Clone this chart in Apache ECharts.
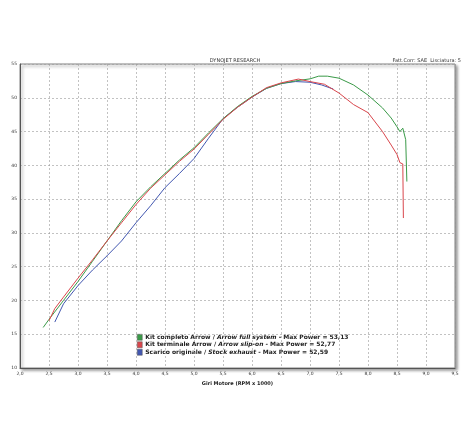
<!DOCTYPE html>
<html>
<head>
<meta charset="utf-8">
<title>Dyno</title>
<script src="https://cdn.jsdelivr.net/npm/echarts@6/dist/echarts.min.js"></script>
<style>body{margin:0;background:#fff}#main{width:470px;height:440px}</style>
</head>
<body>
<div id="main"></div>
<script>
// [rpm x1000, PS]
var fullSystem = [[2.4,16],[2.5,17.2],[2.75,20],[3.0,22.8],[3.25,25.8],[3.5,28.8],[3.75,31.8],[4.0,34.6],[4.25,36.8],[4.5,38.8],[4.75,40.8],[5.0,42.6],[5.25,44.8],[5.5,46.9],[5.75,48.7],[6.0,50.2],[6.25,51.4],[6.5,52.1],[6.75,52.5],[7.0,52.8],[7.15,53.2],[7.3,53.2],[7.5,52.9],[7.75,51.9],[8.0,50.4],[8.25,48.5],[8.4,47],[8.5,45.7],[8.55,45],[8.6,45.5],[8.65,43.8],[8.67,37.6]];
var slipOn = [[2.5,17],[2.6,18.8],[2.75,20.5],[3.0,23.3],[3.25,26],[3.5,28.8],[3.75,31.5],[4.0,34.2],[4.25,36.6],[4.5,38.6],[4.75,40.6],[5.0,42.4],[5.25,44.6],[5.5,46.8],[5.75,48.6],[6.0,50.1],[6.25,51.5],[6.5,52.2],[6.8,52.77],[7.0,52.4],[7.25,52],[7.5,50.7],[7.75,49],[8.0,47.8],[8.25,45],[8.4,43],[8.5,41.6],[8.55,40.4],[8.6,40.2],[8.61,32.2]];
var stock = [[2.6,16.8],[2.75,19.5],[3.0,22.2],[3.25,24.5],[3.5,26.6],[3.75,28.8],[4.0,31.5],[4.25,34],[4.5,36.7],[4.75,38.8],[5.0,41],[5.25,44],[5.5,46.9],[5.75,48.6],[6.0,50.1],[6.25,51.4],[6.5,52.1],[6.75,52.4],[7.0,52.3],[7.2,51.9],[7.4,51.3]];

var colors = ['#3a9a48', '#d9464c', '#4257b0'];
var legendRows = [
  ['Kit completo Arrow / ', 'Arrow full system', ' - Max Power = 53,13'],
  ['Kit terminale Arrow / ', 'Arrow slip-on', ' - Max Power = 52,77'],
  ['Scarico originale / ', 'Stock exhaust', ' - Max Power = 52,59']
];

var chart = echarts.init(document.getElementById('main'));
var legendEls = [];
legendRows.forEach(function (r, i) {
  legendEls.push({type: 'rect', shape: {x: 0, y: i * 7.5, width: 5, height: 6}, style: {fill: colors[i], stroke: '#555', lineWidth: 0.5}});
  legendEls.push({type: 'text', x: 8, y: i * 7.5, style: {
    text: '{a|' + r[0] + '}{b|' + r[1] + '}{a|' + r[2] + '}',
    rich: {a: {fontSize: 6, fontWeight: 'bold', fill: '#222', fontFamily: 'Verdana, DejaVu Sans'},
           b: {fontSize: 6, fontWeight: 'bold', fontStyle: 'italic', fill: '#222', fontFamily: 'Verdana, DejaVu Sans'}}
  }});
});

function comma(v) { return v.toFixed(1).replace('.', ','); }

chart.setOption({
  animation: false,
  textStyle: {fontFamily: 'DejaVu Sans'},
  grid: {left: 20, right: 15, top: 64, bottom: 72, outerBoundsMode: 'none', containLabel: false, show: true, borderColor: '#888', borderWidth: 1, shadowColor: 'rgba(0,0,0,0.4)', shadowBlur: 3, shadowOffsetX: 2, shadowOffsetY: 2, backgroundColor: '#fff'},
  title: [
    {text: 'DYNOJET RESEARCH', left: 'center', top: 53, textStyle: {fontSize: 5, fontWeight: 'normal', color: '#333'}},
    {text: 'Fatt.Corr: SAE  Lisciatura: 5', right: 4, top: 53, textStyle: {fontSize: 5, fontWeight: 'normal', color: '#333'}}
  ],
  xAxis: {
    type: 'value', min: 2, max: 9.5, interval: 0.5,
    name: 'Giri Motore (RPM x 1000)', nameLocation: 'middle', nameGap: 12,
    nameTextStyle: {fontSize: 5, fontWeight: 'bold', color: '#222'},
    axisLabel: {fontSize: 4.5, color: '#333', margin: 3, formatter: comma},
    axisLine: {lineStyle: {color: '#555'}},
    axisTick: {show: false},
    splitLine: {lineStyle: {color: '#999', type: [2, 2], width: 0.6}}
  },
  yAxis: {
    type: 'value', min: 10, max: 55, interval: 5,
    name: 'Potenza (PS)', nameLocation: 'middle', nameGap: 10,
    nameTextStyle: {fontSize: 5, fontWeight: 'bold', color: '#222'},
    axisLabel: {fontSize: 4.5, color: '#333', margin: 3},
    axisLine: {show: true, lineStyle: {color: '#555'}},
    axisTick: {show: false},
    splitLine: {lineStyle: {color: '#999', type: [2, 2], width: 0.6}}
  },
  series: [
    {type: 'line', data: fullSystem, showSymbol: false, lineStyle: {color: colors[0], width: 1}, z: 3},
    {type: 'line', data: slipOn, showSymbol: false, lineStyle: {color: colors[1], width: 1}, z: 4},
    {type: 'line', data: stock, showSymbol: false, lineStyle: {color: colors[2], width: 1}, z: 2}
  ],
  graphic: [{type: 'group', left: 137, top: 334, children: legendEls}]
});
</script>
</body>
</html>
